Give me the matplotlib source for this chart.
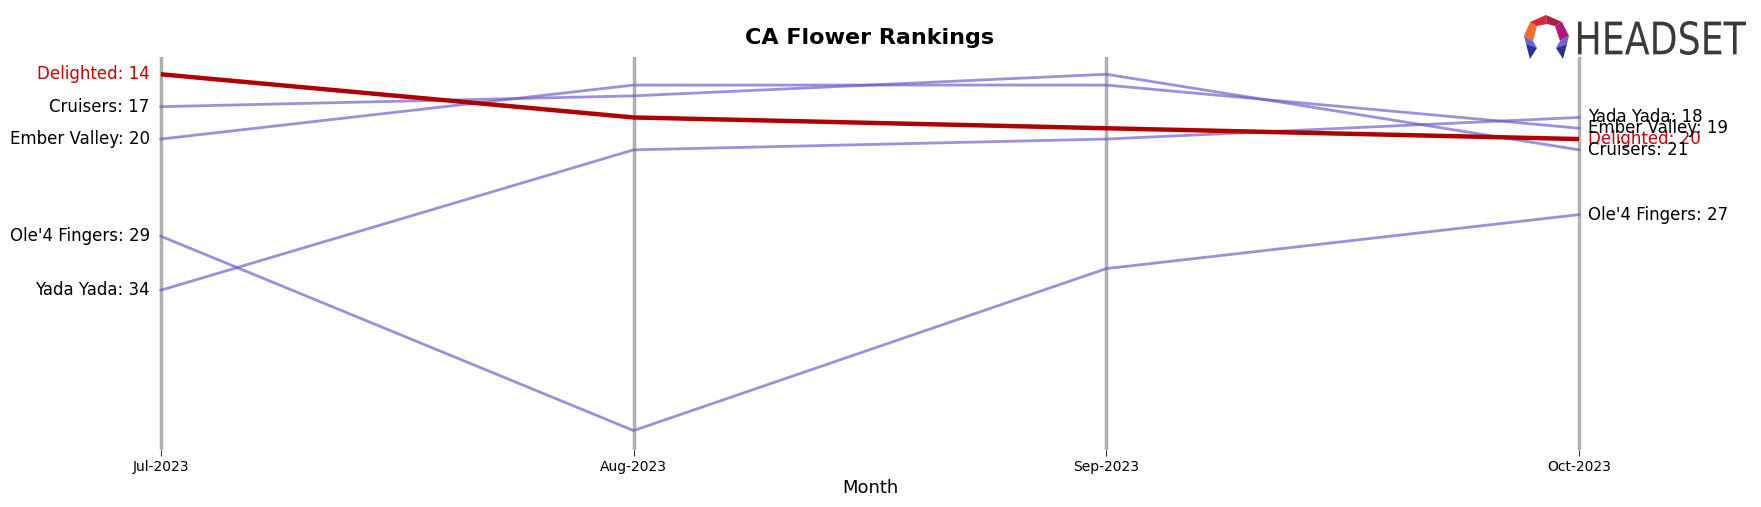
import matplotlib
matplotlib.use("Agg")
import matplotlib.pyplot as plt
from matplotlib.patches import Polygon, PathPatch
from matplotlib.textpath import TextPath
from matplotlib.font_manager import FontProperties
from matplotlib.transforms import Affine2D

# Rankings (lower number = better)
months = ["Jul-2023", "Aug-2023", "Sep-2023", "Oct-2023"]
brands = ["Delighted", "Cruisers", "Ember Valley", "Ole'4 Fingers", "Yada Yada"]
delighted = [14, 18, 19, 20]
cruisers = [17, 16, 14, 21]
ember_valley = [20, 15, 15, 19]
ole4_fingers = [29, 47, 32, 27]
yada_yada = [34, 21, 20, 18]
ranks = [delighted, cruisers, ember_valley, ole4_fingers, yada_yada]
highlight = "Delighted"

RED = "#b00000"
LABEL_RED = "#cc0000"
PURPLE = "slateblue"

fig = plt.figure(figsize=(17.61, 5.07), dpi=100)
ax = fig.add_axes([0.0645, 0.1124, 0.859, 0.7752])

x = list(range(len(months)))
for name, r in zip(brands, ranks):
    if name == highlight:
        ax.plot(x, r, color=RED, lw=3.2, zorder=5, solid_capstyle="butt")
    else:
        ax.plot(x, r, color=PURPLE, lw=2.0, alpha=0.67, zorder=3)
    col = LABEL_RED if name == highlight else "black"
    ax.annotate(f"{name}: {r[0]}", (x[0], r[0]), xytext=(-8, 0),
                textcoords="offset points", ha="right", va="center",
                fontsize=12, color=col)
    ax.annotate(f"{name}: {r[-1]}", (x[-1], r[-1]), xytext=(6.5, 0),
                textcoords="offset points", ha="left", va="center",
                fontsize=12, color=col)

ax.set_xlim(-0.1, 3.1)
ax.set_ylim(48.8, 12.4)
ax.set_xticks(x)
ax.set_xticklabels(months, fontsize=10)
ax.set_yticks([])
ax.tick_params(axis="x", length=4, width=0.8, color="#333333")
ax.grid(axis="x", color="#b0b0b0", lw=2.5)
ax.set_axisbelow(True)
for s in ax.spines.values():
    s.set_visible(False)
ax.set_xlabel("Month", fontsize=13, labelpad=3)

fig.text(0.494, 0.925, "CA Flower Rankings", ha="center", va="center",
         fontsize=16, fontweight="bold")

# rough HEADSET logo, top right
def px(xp, yp):
    return (xp / 1761, 1 - yp / 507)

logo_parts = [
    ([(1524, 36), (1530, 22), (1537, 26), (1533, 41)], "#f26b2a"),
    ([(1530, 22), (1546, 15), (1547, 24), (1537, 26)], "#d7263d"),
    ([(1546, 15), (1562, 22), (1555, 26), (1547, 24)], "#b01f3a"),
    ([(1562, 22), (1569, 36), (1560, 41), (1555, 26)], "#b5177a"),
    ([(1524, 36), (1533, 41), (1537, 48), (1526, 44)], "#6b63d6"),
    ([(1526, 44), (1537, 48), (1530, 59)], "#2b2f8f"),
    ([(1569, 36), (1560, 41), (1556, 48), (1567, 44)], "#6b63d6"),
    ([(1567, 44), (1556, 48), (1563, 59)], "#2b2f8f"),
]
for pts, c in logo_parts:
    fig.patches.append(Polygon([px(a, b) for a, b in pts], closed=True,
                               transform=fig.transFigure, facecolor=c,
                               edgecolor="none"))

# squeeze the word into the logo box
tp = TextPath((0, 0), "HEADSET", size=1, prop=FontProperties(family="DejaVu Sans"))
bb = tp.get_extents()
x0, y0 = px(1578, 55)
sx = (168 / 1761) / bb.width
sy = (34 / 507) / bb.height
tr = Affine2D().translate(-bb.x0, -bb.y0).scale(sx, sy).translate(x0, y0)
fig.patches.append(PathPatch(tp, transform=tr + fig.transFigure,
                             facecolor="#3a3a3a", edgecolor="none"))

fig.savefig("out.png", dpi=100)
